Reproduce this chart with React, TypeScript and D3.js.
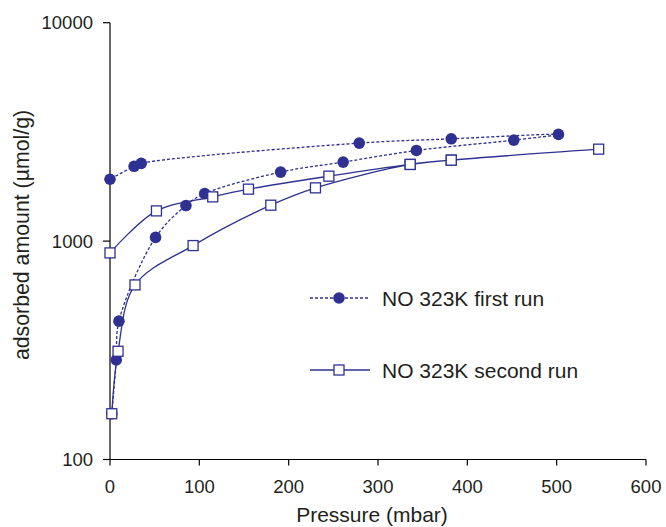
import React from "react";
import * as d3 from "d3";

const xTicks = [0, 100, 200, 300, 400, 500, 600];
const yTicks = [100, 1000, 10000];

const firstRunPressure = [2, 7, 10, 51, 85, 106, 191, 261, 343, 452, 502, 382, 279, 35, 27, 0];
const firstRunAmount = [162, 286, 430, 1040, 1455, 1650, 2070, 2300, 2600, 2900, 3080, 2940, 2810, 2270, 2200, 1920];

const secondRunPressure = [2, 9, 28, 93, 180, 230, 336, 382, 547, 382, 336, 245, 155, 115, 52, 0];
const secondRunAmount = [162, 313, 630, 954, 1460, 1753, 2244, 2348, 2636, 2348, 2244, 1983, 1729, 1594, 1375, 883];

const seriesNames = ["NO 323K first run", "NO 323K second run"];

const BLUE = "#2E3192";
const TEXT = "#231F20";
const FONT = "'Liberation Sans', Arial, sans-serif";

export default function App() {
  const W = 666;
  const H = 527;
  const x = d3.scaleLinear().domain([0, 600]).range([110, 646]);
  const y = d3.scaleLog().domain([100, 10000]).range([459.5, 22.7]);

  const first = firstRunPressure.map((p, i) => [p, firstRunAmount[i]] as [number, number]);
  const second = secondRunPressure.map((p, i) => [p, secondRunAmount[i]] as [number, number]);

  const line = d3
    .line<[number, number]>()
    .x((d) => x(d[0]))
    .y((d) => y(d[1]))
    .curve(d3.curveCatmullRom.alpha(0.5));

  const sq = 10;

  return (
    <svg
      width={W}
      height={H}
      style={{ position: "absolute", left: 0, top: 0, display: "block", background: "#fff" }}
      fontFamily={FONT}
    >
      {/* axes */}
      <line x1={x(0)} x2={x(0)} y1={y(10000)} y2={y(100)} stroke="#000" strokeWidth={1.2} />
      <line x1={x(0)} x2={x(600)} y1={y(100)} y2={y(100)} stroke="#000" strokeWidth={1.2} />
      {yTicks.map((t) => (
        <g key={"y" + t}>
          <line x1={x(0) - 7} x2={x(0)} y1={y(t)} y2={y(t)} stroke="#000" strokeWidth={1.2} />
          <text x={93} y={y(t)} dy="0.35em" textAnchor="end" fontSize={18.5} fill={TEXT}>
            {t}
          </text>
        </g>
      ))}
      {xTicks.map((t) => (
        <g key={"x" + t}>
          <line x1={x(t)} x2={x(t)} y1={y(100)} y2={y(100) + 6} stroke="#000" strokeWidth={1.2} />
          <text x={x(t)} y={493} textAnchor="middle" fontSize={18.5} fill={TEXT}>
            {t}
          </text>
        </g>
      ))}
      <text x={x(300) - 6} y={522} textAnchor="middle" fontSize={21} fill={TEXT}>
        Pressure (mbar)
      </text>
      <text
        transform={`translate(29,235) rotate(-90)`}
        textAnchor="middle"
        fontSize={21.3}
        fill={TEXT}
      >
        adsorbed amount (µmol/g)
      </text>

      {/* series lines */}
      <path d={line(first) || ""} fill="none" stroke={BLUE} strokeWidth={1.3} strokeDasharray="3,2" />
      <path d={line(second) || ""} fill="none" stroke={BLUE} strokeWidth={1.3} />

      {/* markers */}
      {first.map((d, i) => (
        <circle key={"c" + i} cx={x(d[0])} cy={y(d[1])} r={5.8} fill={BLUE} />
      ))}
      {second.map((d, i) => (
        <rect
          key={"s" + i}
          x={x(d[0]) - sq / 2}
          y={y(d[1]) - sq / 2}
          width={sq}
          height={sq}
          fill="#fff"
          stroke={BLUE}
          strokeWidth={1.3}
        />
      ))}

      {/* legend */}
      <g>
        <line x1={310} x2={370} y1={298} y2={298} stroke={BLUE} strokeWidth={1.3} strokeDasharray="3,2" />
        <circle cx={339} cy={298} r={5.8} fill={BLUE} />
        <text x={382} y={305.5} fontSize={21} fill={TEXT}>
          {seriesNames[0]}
        </text>
        <line x1={310} x2={370} y1={370} y2={370} stroke={BLUE} strokeWidth={1.3} />
        <rect x={339 - sq / 2} y={370 - sq / 2} width={sq} height={sq} fill="#fff" stroke={BLUE} strokeWidth={1.3} />
        <text x={382} y={377.5} fontSize={21} fill={TEXT}>
          {seriesNames[1]}
        </text>
      </g>
    </svg>
  );
}
